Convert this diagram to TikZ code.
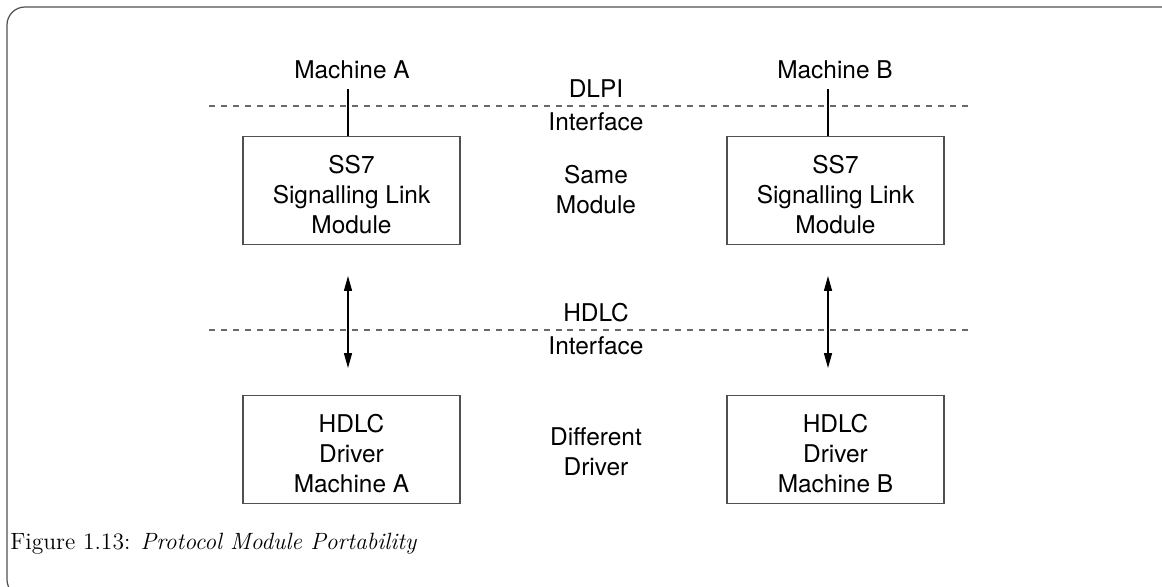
\documentclass[tikz,border=0pt]{standalone}
\usepackage{fontspec}
\usepackage{tikz}
\usetikzlibrary{positioning,calc}
\usetikzlibrary{arrows.meta}
\newfontfamily\helv{TeX Gyre Heros}
\newcommand{\helvtext}{\helv\fontsize{13.9}{17.1}\selectfont}
\newcommand{\boxstrut}{\rule{0pt}{15pt}}
\definecolor{LineGray}{RGB}{80,80,80}
\definecolor{DashGray}{RGB}{105,105,105}
\tikzset{
  box/.style={rectangle,draw=LineGray,line width=0.6pt,minimum width=4.34cm,minimum height=2.16cm,
    align=center,font=\helvtext,inner sep=0pt},
  lab/.style={font=\helvtext,align=center,inner sep=1pt},
  iface/.style={draw=DashGray,line width=0.6pt,dash pattern=on 3.4pt off 3.4pt},
}
\tikzset{link/.style={draw=black,line width=0.6pt}, bothway/.style={link,{Triangle[length=8.5pt,width=4.6pt]}-{Triangle[length=8.5pt,width=4.6pt]}}}

\begin{document}
\begin{tikzpicture}
\useasboundingbox (0,0) rectangle (23.240,-11.720);
% frame, only top and left side show
\draw[draw=LineGray,line width=0.7pt,rounded corners=0.36cm] (23.300,-0.140) -- (0.140,-0.140) -- (0.140,-11.950) -- (1.000,-11.950);
\coordinate (cola) at (6.960,0.000);
\coordinate (colb) at (16.560,0.000);
\coordinate (dlpiL) at (4.180,-2.120);
\coordinate (dlpiR) at (19.400,-2.120);
\coordinate (hdlcL) at (4.180,-6.600);
\coordinate (hdlcR) at (19.400,-6.600);
\draw[iface] (dlpiL) -- (dlpiR);
\draw[iface] (hdlcL) -- (hdlcR);
\node[lab] (macha) at (7.040,-1.400) {Machine A};
\node[lab] (machb) at (16.700,-1.400) {Machine B};
\node[box] (ss7a) at (7.030,-3.810) {\boxstrut SS7\\Signalling Link\\Module};
\node[box] (ss7b) at (16.710,-3.810) {\boxstrut SS7\\Signalling Link\\Module};
\node[box] (drva) at (7.030,-8.990) {\boxstrut HDLC\\Driver\\Machine A};
\node[box] (drvb) at (16.710,-8.990) {\boxstrut HDLC\\Driver\\Machine B};
\node[lab] (dlpi) at (11.920,-1.780) {DLPI};
\node[lab] (dlpiif) at (11.920,-2.440) {Interface};
\node[lab] (same) at (11.920,-3.800) {Same\\Module};
\node[lab] (hdlc) at (11.920,-6.260) {HDLC};
\node[lab] (hdlcif) at (11.920,-6.920) {Interface};
\node[lab] (diff) at (11.920,-9.040) {Different\\Driver};
\draw[link,shorten <=0.16cm] (macha.south -| cola) -- (ss7a.north -| cola);
\draw[link,shorten <=0.16cm] (machb.south -| colb) -- (ss7b.north -| colb);
\draw[bothway,shorten <=0.62cm,shorten >=0.54cm] (ss7a.south -| cola) -- (drva.north -| cola);
\draw[bothway,shorten <=0.62cm,shorten >=0.54cm] (ss7b.south -| colb) -- (drvb.north -| colb);
\node[anchor=base west,font=\fontsize{13.4}{16}\selectfont,inner sep=0pt] (cap) at (0.200,-10.980) {Figure 1.13: \textit{Protocol Module Portability}};
\end{tikzpicture}
\end{document}
